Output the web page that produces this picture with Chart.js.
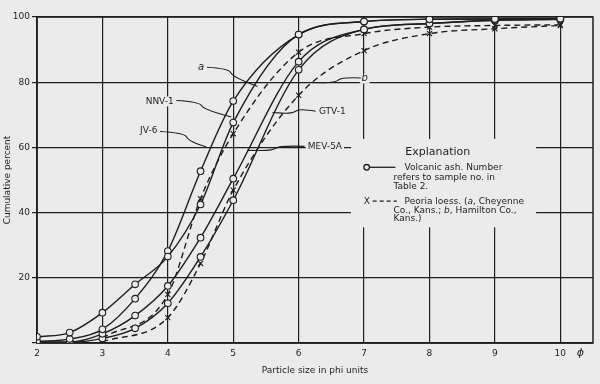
<!DOCTYPE html>
<html><head><meta charset="utf-8">
<script src="https://cdn.jsdelivr.net/npm/chart.js@4/dist/chart.umd.min.js"></script>
<style>html,body{margin:0;padding:0;background:#ebebeb;}#wrap{width:600px;height:384px;position:relative;}</style>
</head><body><div id="wrap"><canvas id="c"></canvas></div>
<script>
// ---- data ----
const ashPhi   = [2, 2.5, 3, 3.5, 4, 4.5, 5, 6, 7, 8, 9, 10];
const nnv1     = [1.9, 3.2, 9.3, 18.0, 26.5, 42.5, 67.6, 94.6, 98.6, 99.3, 99.4, 99.5];
const jv6      = [0.5, 1.2, 4.2, 13.6, 28.2, 52.7, 74.2, 94.6, 98.6, 99.3, 99.4, 99.5];
const mev5a    = [0.3, 0.3, 2.8, 8.4, 17.5, 32.3, 50.4, 86.3, 96.2, 98.0, 99.0, 99.3];
const gtv1     = [0.3, 0.2, 1.4, 4.5, 12.2, 26.4, 43.8, 83.8, 96.2, 98.0, 99.0, 99.3];
const loessPhi = [3, 4, 4.5, 5, 6, 7, 8, 9, 10];
const loessA   = [1.5, 14.9, 44.3, 64.2, 89.2, 94.9, 96.9, 97.4, 97.6];
const loessB   = [0.3, 7.8, 24.4, 46.9, 76.0, 89.7, 94.9, 96.4, 97.4];
const xTicks   = [2, 3, 4, 5, 6, 7, 8, 9, 10];
const yTicks   = [0, 20, 40, 60, 80, 100];

// ---- styling ----
const ink = '#1e1e1e';
const bg = '#ebebeb';
const fam = '"DejaVu Sans", Verdana, sans-serif';

function series(label, xs, ys, dashed) {
  return {
    label,
    data: xs.map((x, i) => ({ x, y: ys[i] })),
    borderColor: ink,
    borderWidth: 1.4,
    borderDash: dashed ? [6, 4] : [],
    pointStyle: dashed ? 'crossRot' : 'circle',
    pointRadius: dashed ? 3.6 : 3.3,
    pointBorderWidth: 1.1,
    pointBackgroundColor: bg,
    pointBorderColor: ink,
    cubicInterpolationMode: 'monotone',
    fill: false
  };
}

// annotation label anchors, in data units (phi, percent)
const curveLabels = [
  { text: 'a',      x: 4.51, y: 84.6, align: 'center', italic: true },
  { text: 'NNV-1',  x: 4.09, y: 74.1, align: 'right' },
  { text: 'JV-6',   x: 3.84, y: 65.2, align: 'right' },
  { text: 'b',      x: 7.01, y: 81.1, align: 'center', italic: true },
  { text: 'GTV-1',  x: 6.31, y: 71.1, align: 'left' },
  { text: 'MEV-5A', x: 6.14, y: 60.3, align: 'left' }
];
const leaders = [
  [[4.60, 84.6], [4.93, 84.2], [4.99, 81.8], [5.37, 78.7]],
  [[4.13, 74.4], [4.48, 74.0], [4.54, 71.8], [4.97, 69.3]],
  [[3.88, 64.9], [4.25, 64.5], [4.32, 62.0], [4.59, 60.1]],
  [[6.95, 81.3], [6.66, 81.6], [6.56, 79.8], [6.17, 79.9]],
  [[6.26, 71.1], [6.02, 72.0], [5.90, 70.3], [5.60, 70.7]],
  [[6.09, 60.3], [5.72, 60.6], [5.60, 59.0], [5.21, 59.1]]
];
// explanation box region (data units)
const legendBox = { x0: 6.80, x1: 9.63, y0: 35.5, y1: 62.6 };

function smoothPath(ctx, pts) {
  ctx.beginPath();
  ctx.moveTo(pts[0][0], pts[0][1]);
  for (let i = 1; i < pts.length - 1; i++) {
    const mx = (pts[i][0] + pts[i + 1][0]) / 2, my = (pts[i][1] + pts[i + 1][1]) / 2;
    ctx.quadraticCurveTo(pts[i][0], pts[i][1], mx, my);
  }
  const l = pts[pts.length - 1];
  ctx.lineTo(l[0], l[1]);
  ctx.stroke();
}

const decor = {
  id: 'decor',
  beforeDatasetsDraw(chart) {
    const { ctx, chartArea: a, scales: { x, y } } = chart;
    ctx.save();
    // explanation box hides the grid
    const bx0 = x.getPixelForValue(legendBox.x0), bx1 = x.getPixelForValue(legendBox.x1);
    const by0 = y.getPixelForValue(legendBox.y1), by1 = y.getPixelForValue(legendBox.y0);
    ctx.fillStyle = bg;
    ctx.fillRect(bx0, by0, bx1 - bx0, by1 - by0);
    // label backgrounds
    ctx.font = '9px ' + fam;
    curveLabels.forEach(l => {
      const w = ctx.measureText(l.text).width;
      let px = x.getPixelForValue(l.x), py = y.getPixelForValue(l.y);
      let left = l.align === 'right' ? px - w : l.align === 'center' ? px - w / 2 : px;
      ctx.fillRect(left - 2, py - 5, w + 4, 10);
    });
    // frame
    ctx.strokeStyle = ink; ctx.lineWidth = 1.5;
    ctx.strokeRect(a.left, a.top, a.right - a.left, a.bottom - a.top);

    // legend text
    const lx = x.getPixelForValue(7.04);
    ctx.fillStyle = ink; ctx.textBaseline = 'middle';
    ctx.font = '11px ' + fam;
    ctx.fillText('Explanation', x.getPixelForValue(7.63), y.getPixelForValue(58.5));
    ctx.font = '9px ' + fam;
    const tx1 = x.getPixelForValue(7.62), tx2 = x.getPixelForValue(7.45);
    let yy = y.getPixelForValue(53.9);
    // solid sample
    ctx.lineWidth = 1.3;
    ctx.beginPath(); ctx.moveTo(lx + 3, yy); ctx.lineTo(x.getPixelForValue(7.48), yy); ctx.stroke();
    ctx.beginPath(); ctx.arc(lx, yy, 2.8, 0, Math.PI * 2); ctx.fillStyle = bg; ctx.fill(); ctx.stroke();
    ctx.fillStyle = ink;
    ctx.fillText('Volcanic ash. Number', tx1, yy);
    ctx.fillText('refers to sample no. in', tx2, y.getPixelForValue(50.8));
    ctx.fillText('Table 2.', tx2, y.getPixelForValue(48.0));
    yy = y.getPixelForValue(43.5);
    ctx.fillText('X', lx - 3, yy);
    ctx.setLineDash([4, 3]);
    ctx.beginPath(); ctx.moveTo(lx + 6, yy); ctx.lineTo(x.getPixelForValue(7.50), yy); ctx.stroke();
    ctx.setLineDash([]);
    let cx = tx1;
    const seg = (t, it) => { ctx.font = (it ? 'italic ' : '') + '9px ' + fam; ctx.fillText(t, cx, yy); cx += ctx.measureText(t).width; };
    seg('Peoria loess. ('); seg('a', true); seg(', Cheyenne');
    yy = y.getPixelForValue(40.7); cx = tx2;
    seg('Co., Kans.; '); seg('b', true); seg(', Hamilton Co.,');
    yy = y.getPixelForValue(38.0); cx = tx2;
    seg('Kans.)');
    ctx.restore();
  },
  afterDatasetsDraw(chart) {
    const { ctx, chartArea: a, scales: { x, y } } = chart;
    ctx.save();
    ctx.strokeStyle = ink; ctx.lineWidth = 1.1;
    leaders.forEach(p => smoothPath(ctx, p.map(q => [x.getPixelForValue(q[0]), y.getPixelForValue(q[1])])));
    ctx.fillStyle = ink; ctx.textBaseline = 'middle';
    curveLabels.forEach(l => {
      ctx.font = (l.italic ? 'italic 10px ' : '9px ') + fam;
      ctx.textAlign = l.align;
      ctx.fillText(l.text, x.getPixelForValue(l.x), y.getPixelForValue(l.y));
    });
    // phi unit symbol after last tick
    ctx.textAlign = 'center';
    ctx.font = 'italic 11px ' + fam;
    ctx.fillText('\u03D5', x.getPixelForValue(10) + 20, a.bottom + 10);
    ctx.restore();
  }
};

new Chart(document.getElementById('c'), {
  type: 'line',
  data: {
    datasets: [
      series('NNV-1', ashPhi, nnv1, false),
      series('JV-6', ashPhi, jv6, false),
      series('MEV-5A', ashPhi, mev5a, false),
      series('GTV-1', ashPhi, gtv1, false),
      series('a (Cheyenne Co.)', loessPhi, loessA, true),
      series('b (Hamilton Co.)', loessPhi, loessB, true)
    ]
  },
  options: {
    responsive: true,
    maintainAspectRatio: false,
    animation: false,
    layout: { padding: { top: 17, right: 7, left: 0, bottom: 0 } },
    plugins: { legend: { display: false }, tooltip: { enabled: false } },
    scales: {
      x: {
        type: 'linear', min: 2, max: 10.5,
        afterBuildTicks: s => { s.ticks = xTicks.map(v => ({ value: v })); },
        afterFit: s => { s.height = 41; },
        grid: { color: ink, lineWidth: 1.2, drawTicks: false },
        border: { display: true, color: ink, width: 1.5 },
        ticks: { color: ink, font: { family: fam, size: 9 }, padding: 5, maxRotation: 0, autoSkip: false },
        title: { display: true, text: 'Particle size in phi units', color: ink, font: { family: fam, size: 9 }, padding: { top: 2, bottom: 8 } }
      },
      y: {
        min: 0, max: 100,
        afterBuildTicks: s => { s.ticks = yTicks.map(v => ({ value: v })); },
        afterFit: s => { s.width = 37; },
        grid: { color: ink, lineWidth: 1.2, tickLength: 5 },
        border: { display: true, color: ink, width: 1.5 },
        ticks: { color: ink, font: { family: fam, size: 9 }, padding: 2, callback: v => v === 0 ? '' : v },
        title: { display: true, text: 'Cumulative percent', color: ink, font: { family: fam, size: 9 }, padding: { top: 2, bottom: 0 } }
      }
    }
  },
  plugins: [decor]
});
</script>
</body></html>
